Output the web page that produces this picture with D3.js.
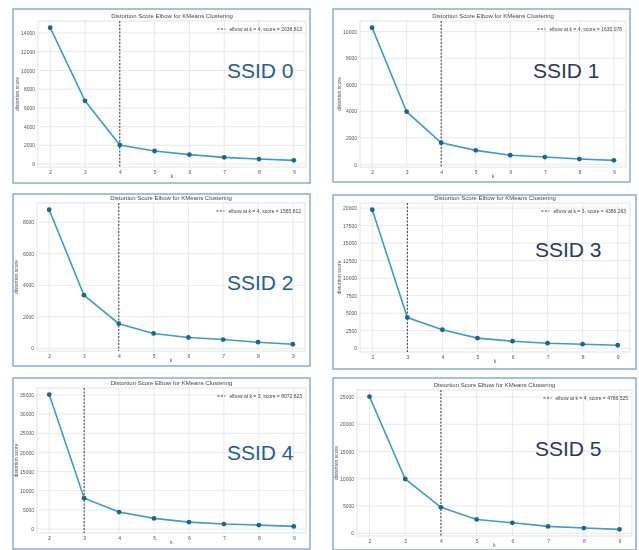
<!DOCTYPE html>
<html>
<head>
<meta charset="utf-8">
<script src="https://cdn.jsdelivr.net/npm/d3@7"></script>
<style>
  body { margin: 0; background: white; }
  text { font-family: "Liberation Sans", Arial, sans-serif; }
</style>
</head>
<body>
<script>
// k values on the x axis (same for every panel)
const kValues = [2, 3, 4, 5, 6, 7, 8, 9];

// distortion scores
const ssid0 = [14570, 6760, 2038.813, 1400, 1010, 720, 540, 400];
const ssid1 = [10300, 3970, 1630.078, 1060, 690, 555, 405, 305];
const ssid2 = [8790, 3370, 1565.812, 945, 690, 560, 390, 260];
const ssid3 = [19760, 4386.263, 2640, 1440, 1005, 720, 575, 430];
const ssid4 = [35100, 8072.623, 4440, 2790, 1830, 1310, 1045, 700];
const ssid5 = [25060, 9960, 4766.525, 2540, 1930, 1270, 965, 725];

const seriesList = [ssid0, ssid1, ssid2, ssid3, ssid4, ssid5];
const ssidLabels = ["SSID 0", "SSID 1", "SSID 2", "SSID 3", "SSID 4", "SSID 5"];
const elbowK = [4, 4, 4, 3, 3, 4];
const elbowScore = ["2038.813", "1630.078", "1565.812", "4386.263", "8072.623", "4766.525"];
const yTickLists = [
    [0, 2000, 4000, 6000, 8000, 10000, 12000, 14000],
    [0, 2000, 4000, 6000, 8000, 10000],
    [0, 2000, 4000, 6000, 8000],
    [0, 2500, 5000, 7500, 10000, 12500, 15000, 17500, 20000],
    [0, 5000, 10000, 15000, 20000, 25000, 30000, 35000],
    [0, 5000, 10000, 15000, 20000, 25000]
];
const chartTitle = "Distortion Score Elbow for KMeans Clustering";

const W = 639, H = 550;
const svg = d3.select("body").append("svg")
    .attr("width", W)
    .attr("height", H)
    .attr("style", "background:white;");

// soft blur, the reference is a blurry screenshot
svg.append("defs").append("filter")
    .attr("id", "soft")
    .append("feGaussianBlur")
    .attr("stdDeviation", 0.35);

// panel frames (box) and plot areas (plot): x0, y0, x1, y1
const layout = [
    { box: [13, 9, 310, 183],  plot: [38, 21, 306, 167],  label: [227, 78],  labelColor: "#245e92" },
    { box: [333, 9, 630, 182], plot: [360, 21, 626, 167], label: [533, 78],  labelColor: "#2d375f" },
    { box: [13, 194, 310, 366], plot: [37, 203, 305, 351], label: [227, 290], labelColor: "#245e92" },
    { box: [333, 195, 636, 369], plot: [360, 203, 630, 352], label: [535, 257], labelColor: "#2d375f" },
    { box: [13, 378, 310, 549], plot: [37, 388, 306, 533], label: [227, 460], labelColor: "#245e92" },
    { box: [333, 378, 636, 550], plot: [357, 390, 632, 536], label: [535, 456], labelColor: "#2d375f" }
];

function drawPanel(i) {
    const L = layout[i];
    const values = seriesList[i];
    const [px0, py0, px1, py1] = L.plot;

    // panel frame
    svg.append("rect")
        .attr("x", L.box[0])
        .attr("y", L.box[1])
        .attr("width", L.box[2] - L.box[0])
        .attr("height", L.box[3] - L.box[1])
        .attr("fill", "white")
        .attr("stroke", "#8fa8dc")
        .attr("stroke-width", 1.5);

    const g = svg.append("g").attr("filter", "url(#soft)");

    // matplotlib-like 5% margins
    const xMin = d3.min(kValues), xMax = d3.max(kValues);
    const xPad = (xMax - xMin) * 0.05;
    const x = d3.scaleLinear().domain([xMin - xPad, xMax + xPad]).range([px0, px1]);
    const yMin = d3.min(values), yMax = d3.max(values);
    const yPad = (yMax - yMin) * 0.05;
    const y = d3.scaleLinear().domain([yMin - yPad, yMax + yPad]).range([py1, py0]);

    // grid
    g.append("g").selectAll("line").data(kValues).join("line")
        .attr("x1", d => x(d)).attr("x2", d => x(d))
        .attr("y1", py0).attr("y2", py1)
        .attr("stroke", "#e3e3e3").attr("stroke-width", 0.8);
    g.append("g").selectAll("line").data(yTickLists[i]).join("line")
        .attr("x1", px0).attr("x2", px1)
        .attr("y1", d => y(d)).attr("y2", d => y(d))
        .attr("stroke", "#e3e3e3").attr("stroke-width", 0.8);
    g.append("rect")
        .attr("x", px0).attr("y", py0)
        .attr("width", px1 - px0).attr("height", py1 - py0)
        .attr("fill", "none")
        .attr("stroke", "#dcdcdc").attr("stroke-width", 0.8);

    // axes (labels only, as in seaborn whitegrid)
    const xAxis = d3.axisBottom(x).tickValues(kValues).tickSize(0).tickPadding(3);
    const xa = g.append("g").attr("transform", `translate(0,${py1})`).call(xAxis);
    const yAxis = d3.axisLeft(y).tickValues(yTickLists[i]).tickSize(0).tickPadding(3)
        .tickFormat(d3.format("d"));
    const ya = g.append("g").attr("transform", `translate(${px0},0)`).call(yAxis);
    [xa, ya].forEach(a => {
        a.select(".domain").remove();
        a.selectAll("text")
            .attr("fill", "#555")
            .style("font-size", "5px");
    });

    // axis titles
    g.append("text")
        .attr("x", (px0 + px1) / 2)
        .attr("y", py1 + 11)
        .attr("text-anchor", "middle")
        .attr("fill", "#555")
        .style("font-size", "5px")
        .text("k");
    g.append("text")
        .attr("transform", `translate(${px0 - 19},${(py0 + py1) / 2}) rotate(-90)`)
        .attr("text-anchor", "middle")
        .attr("fill", "#555")
        .style("font-size", "5px")
        .text("distortion score");

    // chart title
    g.append("text")
        .attr("x", (px0 + px1) / 2)
        .attr("y", py0 - 3)
        .attr("text-anchor", "middle")
        .attr("fill", "#444")
        .style("font-size", "6px")
        .text(chartTitle);

    // elbow line
    g.append("line")
        .attr("x1", x(elbowK[i])).attr("x2", x(elbowK[i]))
        .attr("y1", py0).attr("y2", py1)
        .attr("stroke", "#3a3a3a")
        .attr("stroke-width", 1)
        .attr("stroke-dasharray", "2,1.5");

    // score line
    const line = d3.line()
        .x((d, j) => x(kValues[j]))
        .y(d => y(d));
    g.append("path")
        .datum(values)
        .attr("d", line)
        .attr("fill", "none")
        .attr("stroke", "#3d9dc4")
        .attr("stroke-width", 1.6);
    g.append("g").selectAll("circle").data(values).join("circle")
        .attr("cx", (d, j) => x(kValues[j]))
        .attr("cy", d => y(d))
        .attr("r", 2.4)
        .attr("fill", "#19698c");

    // legend
    const lx = px1 - 4;
    const ly = py0 + 8;
    const legendText = `elbow at k = ${elbowK[i]}, score = ${elbowScore[i]}`;
    const lt = g.append("text")
        .attr("x", lx)
        .attr("y", ly + 1.7)
        .attr("text-anchor", "end")
        .attr("fill", "#444")
        .style("font-size", "5px")
        .text(legendText);
    const tw = lt.node().getComputedTextLength();
    g.append("line")
        .attr("x1", lx - tw - 12).attr("x2", lx - tw - 4)
        .attr("y1", ly).attr("y2", ly)
        .attr("stroke", "#3a3a3a")
        .attr("stroke-width", 1)
        .attr("stroke-dasharray", "2,1.5");

    // big SSID label
    svg.append("text")
        .attr("x", L.label[0])
        .attr("y", L.label[1])
        .attr("fill", L.labelColor)
        .style("font-size", "21px")
        .text(ssidLabels[i]);
}

for (let i = 0; i < seriesList.length; i++) {
    drawPanel(i);
}
</script>
</body>
</html>
